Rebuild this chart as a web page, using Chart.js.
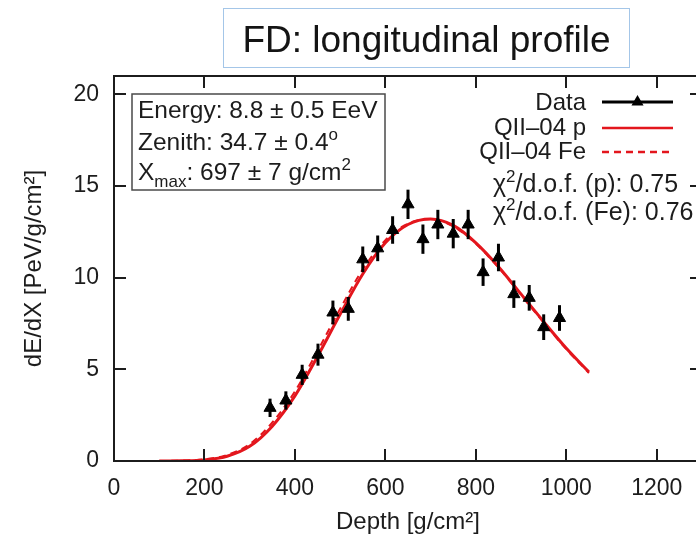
<!DOCTYPE html>
<html>
<head>
<meta charset="utf-8">
<title>FD: longitudinal profile</title>
<script src="https://cdn.jsdelivr.net/npm/chart.js"></script>
<style>
  html, body { margin: 0; padding: 0; overflow: hidden; background: #fff; }
  #wrap { position: relative; width: 710px; height: 539px; }
  #title {
    position: absolute; left: 223px; top: 8px; width: 407px; height: 60px;
    box-sizing: border-box; border: 1.5px solid #a4c6e8;
    font: 37px "Liberation Sans", Arial, sans-serif; color: #141414;
    text-align: center; line-height: 62px; white-space: nowrap;
  }
  canvas { position: absolute; left: 0; top: 0; }
</style>
</head>
<body>
<div id="wrap">
  <canvas id="chart" width="710" height="539"></canvas>
  <div id="title">FD: longitudinal profile</div>
</div>
<script>
const depth = [345, 380, 416, 451, 484, 518, 550, 583, 616, 650, 683, 716, 750, 783, 816, 850, 884, 918, 950, 985];
const dEdX  = [2.9, 3.3, 4.7, 5.8, 8.1, 8.3, 11.0, 11.6, 12.6, 14.0, 12.1, 12.9, 12.4, 12.9, 10.3, 11.1, 9.1, 8.9, 7.3, 7.8];
const dEdXErr = [0.5, 0.5, 0.55, 0.6, 0.65, 0.65, 0.7, 0.7, 0.75, 0.8, 0.8, 0.8, 0.8, 0.8, 0.75, 0.75, 0.75, 0.7, 0.7, 0.7];

// fitted curves (QII-04 proton / iron)
const fitDepth = [100, 150, 200, 250, 300, 350, 400, 450, 500, 550, 600, 650, 700, 750, 800, 850, 900, 950, 1000, 1050];
const fitP  = [0.0, 0.01, 0.06, 0.26, 0.8, 1.9, 3.55, 5.7, 8.0, 10.2, 11.9, 12.9, 13.2, 12.85, 11.9, 10.6, 9.1, 7.6, 6.15, 4.85];
const fitFe = [0.0, 0.02, 0.09, 0.33, 0.92, 2.1, 3.8, 6.0, 8.3, 10.45, 12.05, 12.95, 13.2, 12.8, 11.85, 10.55, 9.05, 7.55, 6.1, 4.8];

const xTicks = [0, 200, 400, 600, 800, 1000, 1200];
const yTicks = [0, 5, 10, 15, 20];

const FAMILY = '"Liberation Sans", Arial, sans-serif';
const RED = '#e3161d';
const INK = '#1c1c1c';

const toXY = (xs, ys) => xs.map((x, i) => ({ x: x, y: ys[i] }));

// text with super/subscripts: parts = [[text, mode]], mode 1 = sup, -1 = sub
function richText(ctx, parts, x, y, size, align) {
  const fontFor = m => (m ? Math.round(size * 0.68) : size) + 'px ' + FAMILY;
  let w = 0;
  parts.forEach(([t, m]) => { ctx.font = fontFor(m); w += ctx.measureText(t).width; });
  let cx = align === 'right' ? x - w : x;
  ctx.textAlign = 'left';
  ctx.textBaseline = 'alphabetic';
  parts.forEach(([t, m]) => {
    ctx.font = fontFor(m);
    const dy = m === 1 ? -size * 0.42 : (m === -1 ? size * 0.28 : 0);
    ctx.fillText(t, cx, y + dy);
    cx += ctx.measureText(t).width;
  });
}

function triangle(ctx, cx, cy, r) {
  ctx.beginPath();
  ctx.moveTo(cx, cy - r);
  ctx.lineTo(cx + r * 0.866, cy + r * 0.5);
  ctx.lineTo(cx - r * 0.866, cy + r * 0.5);
  ctx.closePath();
  ctx.fill();
}

const errorBars = {
  id: 'errorBars',
  afterDatasetsDraw(chart) {
    const { ctx, scales: { x, y } } = chart;
    ctx.save();
    ctx.strokeStyle = '#000';
    ctx.lineWidth = 3;
    depth.forEach((d, i) => {
      const px = x.getPixelForValue(d);
      ctx.beginPath();
      ctx.moveTo(px, y.getPixelForValue(dEdX[i] - dEdXErr[i]));
      ctx.lineTo(px, y.getPixelForValue(dEdX[i] + dEdXErr[i]));
      ctx.stroke();
    });
    ctx.restore();
  }
};

const frame = {
  id: 'frame',
  afterDraw(chart) {
    const { ctx, chartArea: a, scales: { x, y } } = chart;
    const tl = 12;
    ctx.save();
    ctx.strokeStyle = INK;
    ctx.lineWidth = 2;
    ctx.strokeRect(a.left, a.top, a.right - a.left, a.bottom - a.top);
    ctx.beginPath();
    xTicks.forEach(v => {
      const px = Math.round(x.getPixelForValue(v));
      ctx.moveTo(px, a.bottom); ctx.lineTo(px, a.bottom - tl);
      ctx.moveTo(px, a.top); ctx.lineTo(px, a.top + tl);
    });
    yTicks.forEach(v => {
      const py = Math.round(y.getPixelForValue(v));
      ctx.moveTo(a.left, py); ctx.lineTo(a.left + tl, py);
      ctx.moveTo(a.right, py); ctx.lineTo(a.right - tl, py);
    });
    ctx.stroke();

    // info box
    ctx.fillStyle = '#fff';
    ctx.fillRect(132, 94, 253, 96);
    ctx.strokeStyle = '#4a4a4a';
    ctx.lineWidth = 1.5;
    ctx.strokeRect(132, 94, 253, 96);
    ctx.fillStyle = INK;
    richText(ctx, [['Energy: 8.8 ± 0.5 EeV', 0]], 138, 118, 24.5);
    richText(ctx, [['Zenith: 34.7 ± 0.4', 0], ['o', 1]], 138, 150, 24.5);
    richText(ctx, [['X', 0], ['max', -1], [': 697 ± 7 g/cm', 0], ['2', 1]], 138, 180, 24.5);

    // key
    const kx = 586, s0 = 602, s1 = 673;
    richText(ctx, [['Data', 0]], kx, 110, 24, 'right');
    richText(ctx, [['QII–04 p', 0]], kx, 135, 24, 'right');
    richText(ctx, [['QII–04 Fe', 0]], kx, 159, 24, 'right');
    ctx.strokeStyle = '#000';
    ctx.lineWidth = 3;
    ctx.beginPath(); ctx.moveTo(s0, 102); ctx.lineTo(s1, 102); ctx.stroke();
    ctx.fillStyle = '#000';
    triangle(ctx, (s0 + s1) / 2, 102, 7);
    ctx.strokeStyle = RED;
    ctx.lineWidth = 2.5;
    ctx.beginPath(); ctx.moveTo(s0, 128); ctx.lineTo(s1, 128); ctx.stroke();
    ctx.setLineDash([7, 5]);
    ctx.beginPath(); ctx.moveTo(s0, 152); ctx.lineTo(s1, 152); ctx.stroke();
    ctx.setLineDash([]);
    ctx.fillStyle = INK;
    richText(ctx, [['χ', 0], ['2', 1], ['/d.o.f. (p): 0.75', 0]], 493, 192, 25);
    richText(ctx, [['χ', 0], ['2', 1], ['/d.o.f. (Fe): 0.76', 0]], 493, 220, 25);
    ctx.restore();
  }
};

new Chart(document.getElementById('chart'), {
  type: 'scatter',
  data: {
    datasets: [
      {
        label: 'Data',
        data: toXY(depth, dEdX),
        pointStyle: 'triangle',
        pointRadius: 7,
        backgroundColor: '#000',
        borderColor: '#000',
        borderWidth: 1,
        showLine: false
      },
      {
        label: 'QII-04 p',
        data: toXY(fitDepth, fitP),
        showLine: true,
        pointRadius: 0,
        borderColor: RED,
        borderWidth: 3,
        cubicInterpolationMode: 'monotone'
      },
      {
        label: 'QII-04 Fe',
        data: toXY(fitDepth, fitFe),
        showLine: true,
        pointRadius: 0,
        borderColor: RED,
        borderWidth: 2,
        borderDash: [7, 5],
        cubicInterpolationMode: 'monotone'
      }
    ]
  },
  options: {
    responsive: false,
    animation: false,
    layout: { padding: { top: 76, right: 8, left: 0, bottom: 0 } },
    plugins: { legend: { display: false }, tooltip: { enabled: false } },
    scales: {
      x: {
        type: 'linear', min: 0, max: 1300,
        grid: { display: false, drawTicks: false },
        border: { display: false },
        ticks: { stepSize: 200, includeBounds: false, autoSkip: false, maxRotation: 0, padding: 14,
                 color: INK, font: { size: 23, family: FAMILY }, callback: v => String(v) },
        title: { display: true, text: 'Depth [g/cm²]', color: INK,
                 font: { size: 24, family: FAMILY }, padding: { top: 0, bottom: 2 } },
        afterFit: s => { s.height = 78; }
      },
      y: {
        type: 'linear', min: 0, max: 21,
        grid: { display: false, drawTicks: false },
        border: { display: false },
        ticks: { stepSize: 5, includeBounds: false, padding: 15,
                 color: INK, font: { size: 23, family: FAMILY }, callback: v => String(v) },
        title: { display: true, text: 'dE/dX [PeV/g/cm²]', color: INK,
                 font: { size: 24, family: FAMILY }, padding: { top: 20, bottom: 0 } },
        afterFit: s => { s.width = 114; }
      }
    }
  },
  plugins: [errorBars, frame]
});
</script>
</body>
</html>
